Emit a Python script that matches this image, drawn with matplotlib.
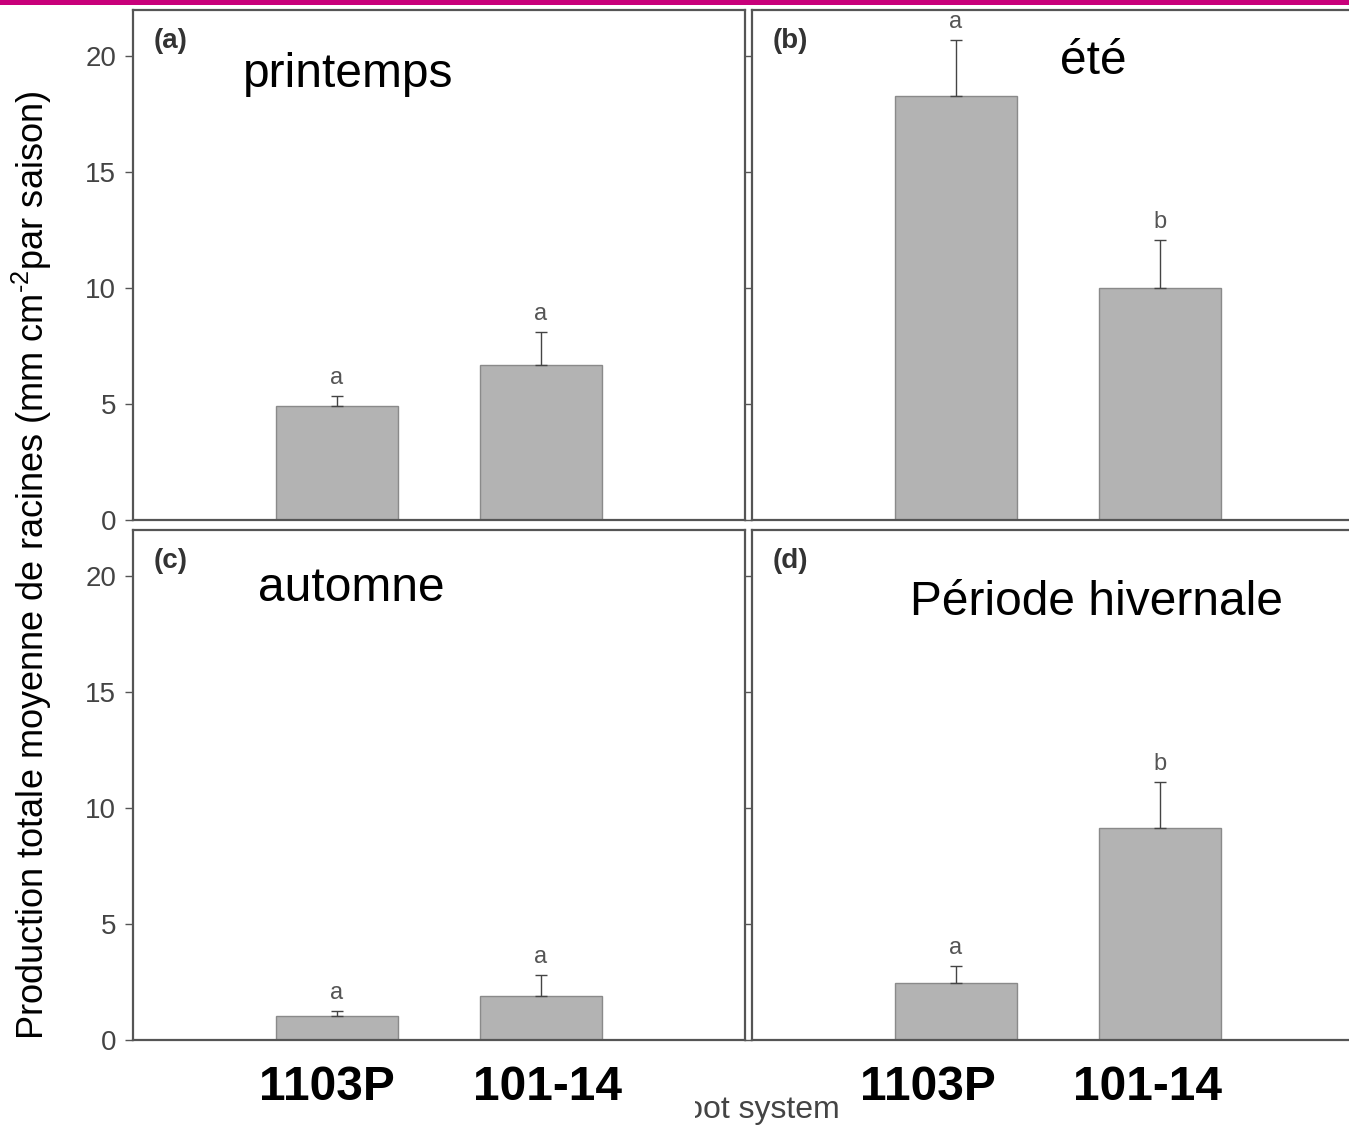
import matplotlib.pyplot as plt
import matplotlib.patches as mpatches
import numpy as np

plt.rcParams['font.family'] = ['Liberation Sans', 'DejaVu Sans']
plt.rcParams['mathtext.fontset'] = 'custom'
plt.rcParams['mathtext.rm'] = 'Liberation Sans'

# données
porte_greffes = ['1103P', '101-14']
saisons = ['printemps', 'été', 'automne', 'Période hivernale']
panneaux = ['(a)', '(b)', '(c)', '(d)']
moyennes = [[4.9, 6.7], [18.3, 10.0], [1.05, 1.9], [2.45, 9.15]]
erreurs = [[0.45, 1.4], [2.4, 2.1], [0.2, 0.9], [0.75, 2.0]]
lettres = [['a', 'a'], ['a', 'b'], ['a', 'a'], ['a', 'b']]
yticks = [0, 5, 10, 15, 20]

fig = plt.figure(figsize=(13.49, 11.3), dpi=100)

# positions des 4 panneaux (pixels)
W, H = 1349, 1130
boites = [(133, 10), (752, 10), (133, 530), (752, 530)]
titre_pos = [(0.18, 0.873), (0.503, 0.90), (0.204, 0.886), (0.258, 0.857)]
nom_pos = [[0.95, 2.03], [0.86, 1.94]]
gris = '#555555'

axes = []
for i, (x0, y0) in enumerate(boites):
    ax = fig.add_axes([x0 / W, 1 - (y0 + 510) / H, 612 / W, 510 / H])
    x = np.arange(1, 3)
    ax.bar(x, moyennes[i], width=0.6, color='#b3b3b3', edgecolor='#8a8a8a', linewidth=1)
    ax.errorbar(x, moyennes[i], yerr=[[0, 0], erreurs[i]], fmt='none',
                ecolor='#444444', elinewidth=1, capsize=4, capthick=1)
    for xi, m, e, l in zip(x, moyennes[i], erreurs[i], lettres[i]):
        ax.text(xi, m + e + 0.3, l, ha='center', va='bottom', fontsize=17,
                color='#555555', clip_on=False)
    ax.set_xlim(0, 3)
    ax.set_ylim(0, 22)
    ax.set_xticks([])
    ax.set_yticks(yticks)
    if i % 2 == 0:
        ax.set_yticklabels([str(t) for t in yticks], fontsize=20, color='#444444')
    else:
        ax.set_yticklabels([])
    ax.tick_params(axis='y', direction='out', length=6, width=1, color=gris, pad=6)
    for s in ax.spines.values():
        s.set_color(gris)
        s.set_linewidth(1.6)
    ax.text(0.033, 0.965, panneaux[i], transform=ax.transAxes, ha='left', va='top',
            fontsize=20, fontweight='bold', color='#333333')
    ax.text(titre_pos[i][0], titre_pos[i][1], saisons[i], transform=ax.transAxes,
            ha='left', va='center', fontsize=34.5, color='black')
    axes.append(ax)

# noms des porte-greffes sous les panneaux du bas
for ax, pos in zip(axes[2:], nom_pos):
    for xi, nom in zip(pos, porte_greffes):
        ax.text(xi, -0.093, nom, transform=ax.get_xaxis_transform(), ha='center',
                va='center', fontsize=34.5, fontweight='bold', color='black')

# titre d'axe x à moitié masqué
fig.text(840 / W, 1 - 1110 / H, 'Root system', ha='right', va='center',
         fontsize=23, color='#444444', zorder=5)
fig.add_artist(mpatches.Rectangle((630 / W, 0), 65 / W, 42 / H,
                                  transform=fig.transFigure, facecolor='white',
                                  edgecolor='none', zorder=6))

fig.text(32 / W, 0.5, r'Production totale moyenne de racines (mm cm$\mathregular{^{‐2}}$par saison)',
         rotation=90, ha='center', va='center', fontsize=26, color='black')

# bande magenta en haut
fig.add_artist(mpatches.Rectangle((0, 1 - 5 / H), 1, 5 / H, transform=fig.transFigure,
                                  facecolor='#c8007a', edgecolor='none'))

fig.savefig('out.png', dpi=100)
